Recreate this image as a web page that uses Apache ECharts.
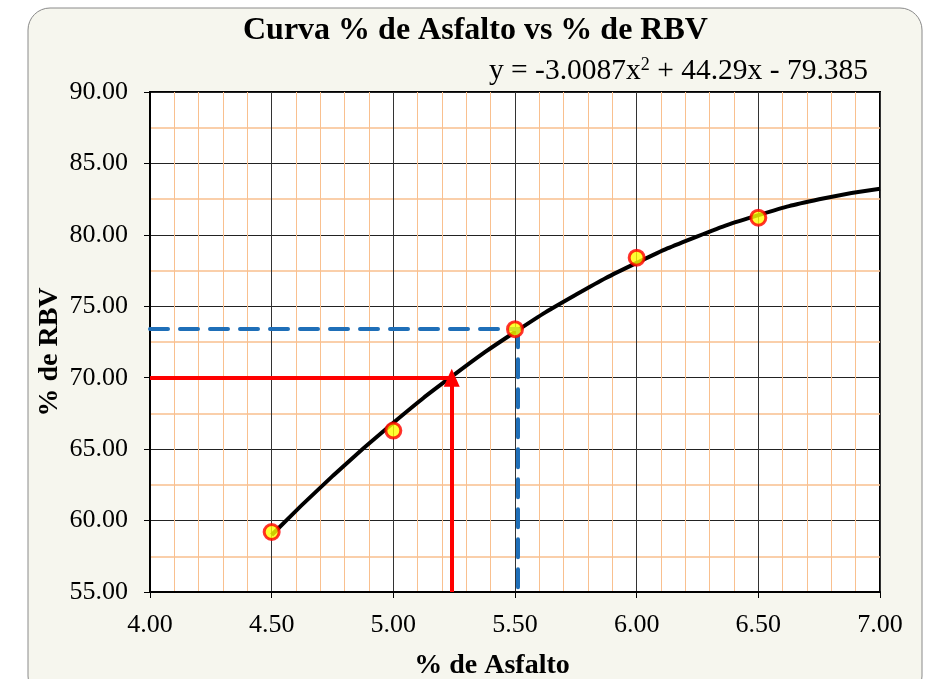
<!DOCTYPE html>
<html>
<head>
<meta charset="utf-8">
<script src="https://cdn.jsdelivr.net/npm/echarts@6/dist/echarts.min.js"></script>
<style>
    html, body { margin: 0; padding: 0; background: #ffffff; }
    #chart { width: 931px; height: 679px; }
</style>
</head>
<body>
<div id="chart"></div>
<script>
const asfalto = [4.5, 5.0, 5.5, 6.0, 6.5];
const rbv = [59.2, 66.3, 73.4, 78.4, 81.2];

// trendline points
const curveX = [4.5, 4.75, 5.0, 5.25, 5.5, 5.75, 6.0, 6.25, 6.5, 6.75, 7.0];
const curveY = [58.99, 63.11, 66.85, 70.21, 73.20, 75.81, 78.04, 79.90, 81.38, 82.49, 83.22];

const redX = 5.24, redY = 70.0;
const blueX = 5.51, blueY = 73.4;

const titleText = 'Curva % de Asfalto vs % de RBV';
const equationText = 'y = -3.0087x{sup|2} + 44.29x - 79.385';

const serif = '"Liberation Serif", "DejaVu Serif", serif';

const chart = echarts.init(document.getElementById('chart'));

chart.setOption({
    backgroundColor: '#ffffff',
    animation: false,
    graphic: [
        {
            type: 'rect',
            z: -10,
            shape: {x: 28, y: 8, width: 894, height: 690, r: 22},
            style: {fill: '#f6f6ee', stroke: '#8a8a8a', lineWidth: 1}
        },
        {
            type: 'text',
            left: 243,
            top: 15,
            style: {
                text: titleText,
                font: 'bold 32px ' + serif,
                fill: '#000'
            }
        },
        {
            type: 'text',
            right: 63,
            top: 56,
            style: {
                text: equationText,
                font: '29.5px ' + serif,
                fill: '#000',
                rich: {sup: {fontSize: 18, verticalAlign: 'top', padding: [0, 0, 12, 0], fontFamily: serif}}
            }
        }
    ],
    grid: {
        left: 150, right: 51, top: 92, bottom: 87,
        outerBoundsMode: 'none',
        containLabel: false,
        show: true,
        backgroundColor: '#ffffff',
        borderColor: '#000',
        borderWidth: 2
    },
    xAxis: {
        type: 'value',
        min: 4, max: 7, interval: 0.5,
        name: '% de Asfalto',
        nameLocation: 'middle',
        nameGap: 60,
        nameTextStyle: {fontFamily: serif, fontWeight: 'bold', fontSize: 28, color: '#000', padding: [0, 46, 0, 0]},
        axisLine: {lineStyle: {color: '#000', width: 2}},
        axisTick: {show: true, length: 6, lineStyle: {color: '#000'}},
        axisLabel: {
            formatter: v => v.toFixed(2),
            fontFamily: serif, fontSize: 26, color: '#000', margin: 20
        },
        splitLine: {show: true, lineStyle: {color: '#333', width: 1}},
        minorTick: {show: false, splitNumber: 5},
        minorSplitLine: {show: true, lineStyle: {color: '#f9c08f', width: 1}}
    },
    yAxis: {
        type: 'value',
        min: 55, max: 90, interval: 5,
        name: '% de RBV',
        nameLocation: 'middle',
        nameGap: 86,
        nameMoveOverlap: false,
        nameTextStyle: {fontFamily: serif, fontWeight: 'bold', fontSize: 28, color: '#000', padding: [0, 20, 0, 0]},
        axisLine: {show: true, lineStyle: {color: '#000', width: 2}},
        axisTick: {show: true, length: 6, lineStyle: {color: '#000'}},
        axisLabel: {
            formatter: v => v.toFixed(2),
            fontFamily: serif, fontSize: 26, color: '#000', margin: 22
        },
        splitLine: {show: true, lineStyle: {color: '#222', width: 1}},
        minorTick: {show: false, splitNumber: 2},
        minorSplitLine: {show: true, lineStyle: {color: '#f9c08f', width: 1.5}}
    },
    series: [
        {
            name: 'guides',
            type: 'line',
            data: [],
            markLine: {
                silent: true,
                symbol: 'none',
                label: {show: false},
                data: [
                    [{coord: [4, blueY], lineStyle: {color: '#1f6fb8', width: 4, type: [18, 12], cap: 'round'}},
                     {coord: [blueX, blueY]}],
                    [{coord: [blueX, blueY], lineStyle: {color: '#1f6fb8', width: 4, type: [18, 12], cap: 'round'}},
                     {coord: [blueX, 55]}],
                    [{coord: [4, redY], lineStyle: {color: '#ff0000', width: 4, type: 'solid'}},
                     {coord: [redX, redY]}],
                    [{coord: [redX, 55], symbol: 'none', lineStyle: {color: '#ff0000', width: 4, type: 'solid'}},
                     {coord: [redX, redY], symbol: 'triangle', symbolSize: [16, 18]}]
                ]
            },
            z: 3
        },
        {
            name: 'trend',
            type: 'line',
            data: curveX.map((x, i) => [x, curveY[i]]),
            smooth: true,
            showSymbol: false,
            lineStyle: {color: '#000', width: 4},
            z: 4
        },
        {
            name: 'RBV',
            type: 'scatter',
            data: asfalto.map((x, i) => [x, rbv[i]]),
            symbol: 'circle',
            symbolSize: 15,
            itemStyle: {color: '#ffff00', borderColor: '#ff0000', borderWidth: 3},
            z: 5
        }
    ]
});
</script>
</body>
</html>
